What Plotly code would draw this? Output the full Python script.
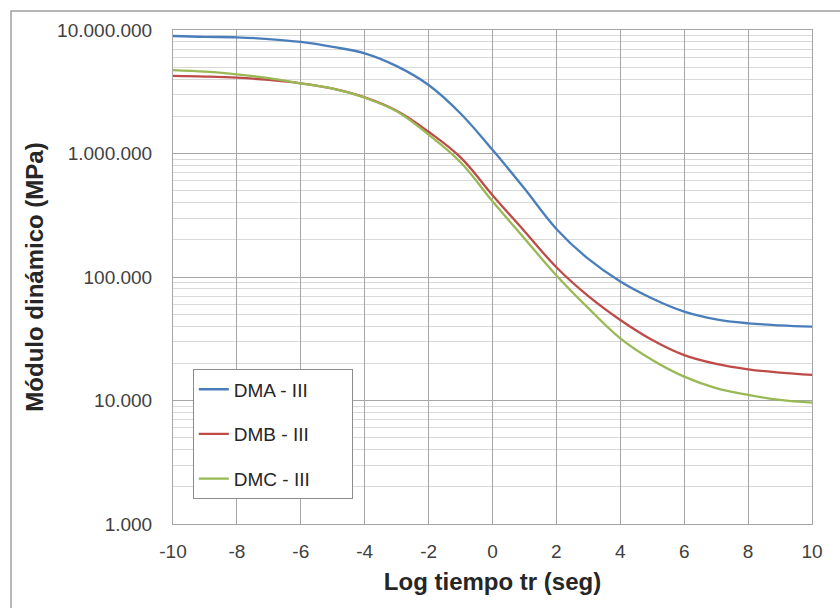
import plotly.graph_objects as go

# ---- data ----
log_t = [-10, -9, -8, -7, -6, -5, -4, -3, -2, -1, 0, 1, 2, 3, 4, 5, 6, 7, 8, 9, 10]
dma = [8.94e6, 8.8e6, 8.73e6, 8.45e6, 8.0e6, 7.3e6, 6.47e6, 5.1e6, 3.59e6, 2.11e6, 1.07e6,
       5.2e5, 2.45e5, 1.4e5, 9.2e4, 6.7e4, 5.24e4, 4.54e4, 4.22e4, 4.06e4, 3.96e4]
dmb = [4.25e6, 4.2e6, 4.11e6, 3.94e6, 3.7e6, 3.35e6, 2.85e6, 2.22e6, 1.5e6, 9.3e5, 4.6e5,
       2.35e5, 1.2e5, 7.0e4, 4.49e4, 3.09e4, 2.33e4, 1.98e4, 1.79e4, 1.68e4, 1.61e4]
dmc = [4.74e6, 4.6e6, 4.38e6, 4.07e6, 3.7e6, 3.35e6, 2.83e6, 2.2e6, 1.42e6, 8.5e5, 4.1e5,
       2.05e5, 1.03e5, 5.6e4, 3.19e4, 2.13e4, 1.56e4, 1.26e4, 1.11e4, 1.01e4, 9.6e3]

series_names = ["DMA - III", "DMB - III", "DMC - III"]
series_colors = ["#4A7EBB", "#BE4B48", "#98B954"]

x_ticks = [-10, -8, -6, -4, -2, 0, 2, 4, 6, 8, 10]
y_ticks = [1e3, 1e4, 1e5, 1e6, 1e7]
y_ticktext = ["1.000", "10.000", "100.000", "1.000.000", "10.000.000"]
y_minor = [m * 10 ** e for e in range(3, 7) for m in range(2, 10)]

FONT = "Liberation Sans, Arial, sans-serif"
PAD = "\u00a0" * 7  # widen the legend box like the reference

fig = go.Figure()
for i, (name, vals, col) in enumerate(zip(series_names, [dma, dmb, dmc], series_colors)):
    fig.add_trace(go.Scatter(
        x=log_t, y=vals, name=name + PAD, mode="lines",
        line=dict(color=col, width=2.3, shape="spline", smoothing=1.1),
        legendgroup=f"g{i}",
    ))

fig.update_layout(
    width=840, height=608,
    margin=dict(l=173, r=28, t=30, b=84),
    paper_bgcolor="white", plot_bgcolor="white",
    font=dict(family=FONT, size=19, color="#404040"),
    showlegend=True,
    legend=dict(
        x=0.031, y=0.313, xanchor="left", yanchor="top",
        bgcolor="white", bordercolor="#8c8c8c", borderwidth=1,
        font=dict(family=FONT, size=19, color="#262626"),
        tracegroupgap=17,
    ),
    xaxis=dict(
        range=[-10, 10], tickvals=x_ticks,
        ticktext=[str(v) for v in x_ticks],
        showgrid=True, gridcolor="#a6a6a6", gridwidth=1,
        showline=True, linecolor="#a6a6a6", linewidth=1, mirror=True,
        zeroline=False, ticks="", ticklabelstandoff=10,
        title=dict(text="Log tiempo tr (seg)", standoff=12,
                   font=dict(family=FONT, size=24, color="#262626", weight="bold")),
    ),
    yaxis=dict(
        type="log", range=[3, 7], tickvals=y_ticks, ticktext=y_ticktext,
        showgrid=True, gridcolor="#a6a6a6", gridwidth=1,
        showline=True, linecolor="#a6a6a6", linewidth=1, mirror=True,
        zeroline=False, ticks="", ticklabelstandoff=16,
        minor=dict(tickvals=y_minor, showgrid=True, gridcolor="#d9d9d9", gridwidth=1, ticks=""),
        title=dict(text="Módulo dinámico (MPa)", standoff=6,
                   font=dict(family=FONT, size=24, color="#262626", weight="bold")),
    ),
    shapes=[dict(
        type="rect", xref="paper", yref="paper",
        x0=-0.2535, x1=1.08, y0=-0.25, y1=1.0385,
        line=dict(color="#a0a0a0", width=1.5), fillcolor="rgba(0,0,0,0)", layer="below",
    )],
)

fig.write_html("out.html")
